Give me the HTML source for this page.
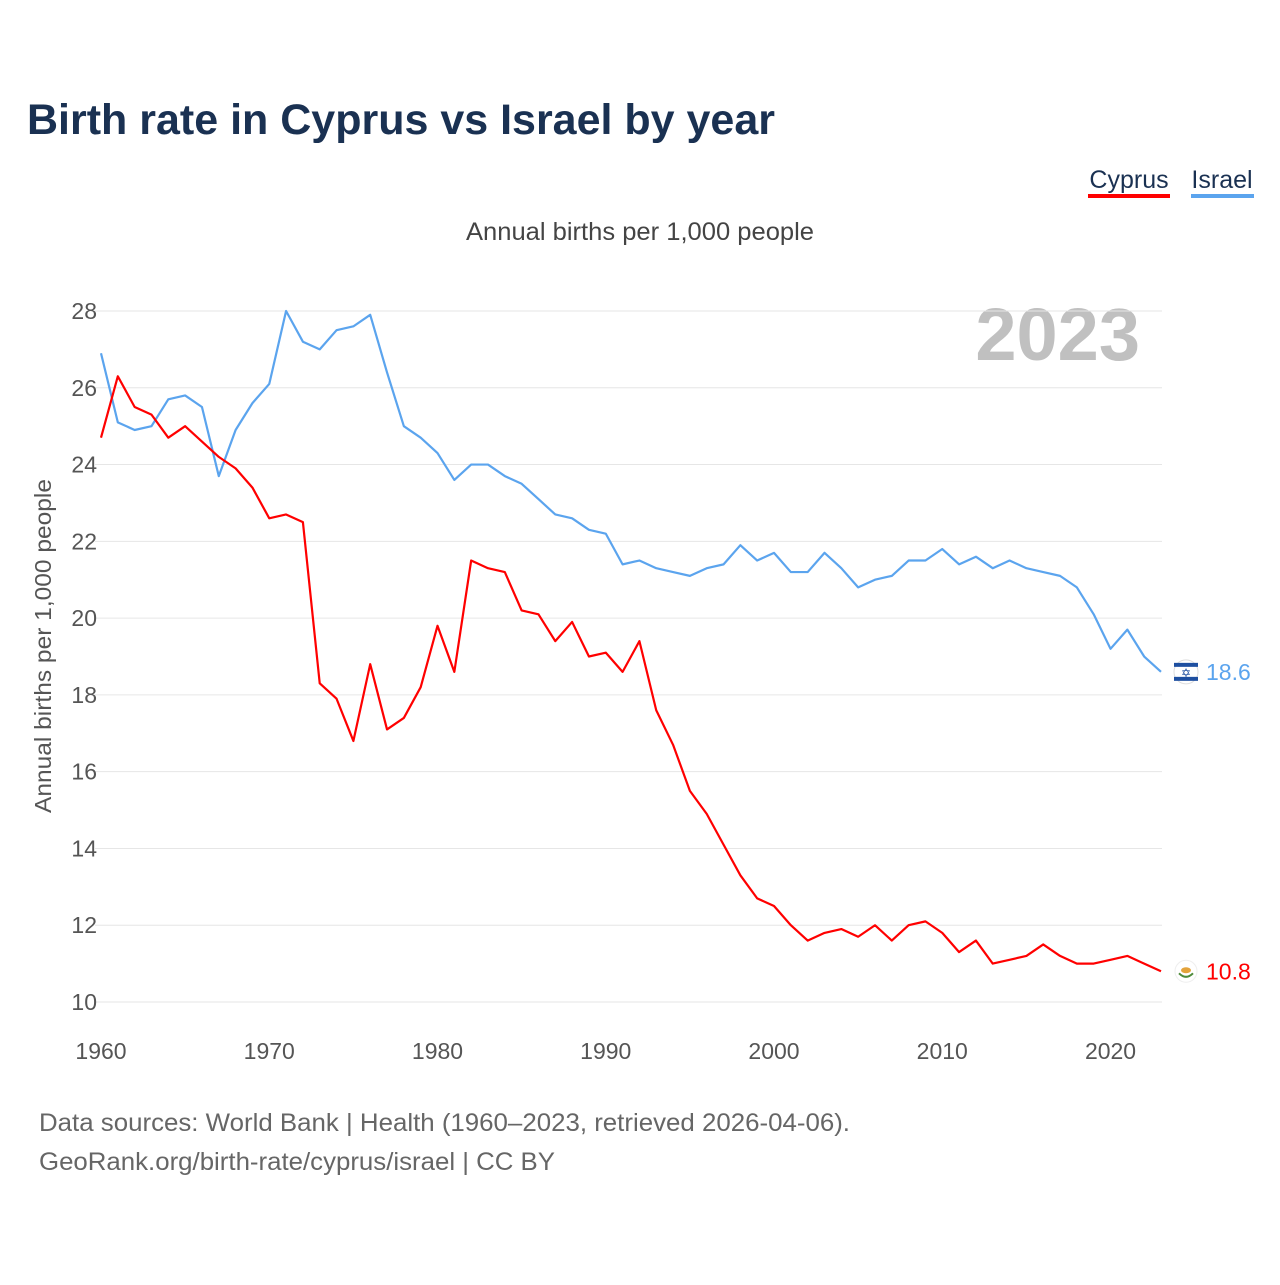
<!DOCTYPE html>
<html><head><meta charset="utf-8"><style>
body{margin:0;background:#fff;font-family:"Liberation Sans",sans-serif;}
svg text{font-family:"Liberation Sans",sans-serif;}
</style></head><body>
<svg id="chart" width="1280" height="1280" xmlns="http://www.w3.org/2000/svg">
<rect width="1280" height="1280" fill="#fff"/>
<text x="27" y="134" font-size="43" font-weight="bold" fill="#1a3152" textLength="748" lengthAdjust="spacingAndGlyphs">Birth rate in Cyprus vs Israel by year</text>
<g>
<text x="1129" y="188" font-size="25" fill="#1a3152" text-anchor="middle">Cyprus</text>
<rect x="1088" y="194" width="82" height="4" fill="#ff0000"/>
<text x="1222" y="188" font-size="25" fill="#1a3152" text-anchor="middle">Israel</text>
<rect x="1191" y="194" width="63" height="4" fill="#5ba4ee"/>
</g>
<text x="640" y="240" font-size="25" fill="#444" text-anchor="middle" textLength="348" lengthAdjust="spacingAndGlyphs">Annual births per 1,000 people</text>
<text x="1140" y="360" font-size="74" font-weight="bold" fill="#c0c0c0" text-anchor="end">2023</text>
<text transform="translate(51,646) rotate(-90)" font-size="23" fill="#555" text-anchor="middle" textLength="334" lengthAdjust="spacingAndGlyphs">Annual births per 1,000 people</text>
<g id="grid"></g><g id="ticks"></g><g id="lines"></g><g id="ends"></g>
<text x="39" y="1131" font-size="25" fill="#666" textLength="811" lengthAdjust="spacingAndGlyphs">Data sources: World Bank | Health (1960–2023, retrieved 2026-04-06).</text>
<text x="39" y="1170" font-size="25" fill="#666" textLength="516" lengthAdjust="spacingAndGlyphs">GeoRank.org/birth-rate/cyprus/israel | CC BY</text>
</svg>
<script>
const years=[];for(let y=1960;y<=2023;y++)years.push(y);
const israel=[26.9,25.1,24.9,25.0,25.7,25.8,25.5,23.7,24.9,25.6,26.1,28.0,27.2,27.0,27.5,27.6,27.9,26.4,25.0,24.7,24.3,23.6,24.0,24.0,23.7,23.5,23.1,22.7,22.6,22.3,22.2,21.4,21.5,21.3,21.2,21.1,21.3,21.4,21.9,21.5,21.7,21.2,21.2,21.7,21.3,20.8,21.0,21.1,21.5,21.5,21.8,21.4,21.6,21.3,21.5,21.3,21.2,21.1,20.8,20.1,19.2,19.7,19.0,18.6];
const cyprus=[24.7,26.3,25.5,25.3,24.7,25.0,24.6,24.2,23.9,23.4,22.6,22.7,22.5,18.3,17.9,16.8,18.8,17.1,17.4,18.2,19.8,18.6,21.5,21.3,21.2,20.2,20.1,19.4,19.9,19.0,19.1,18.6,19.4,17.6,16.7,15.5,14.9,14.1,13.3,12.7,12.5,12.0,11.6,11.8,11.9,11.7,12.0,11.6,12.0,12.1,11.8,11.3,11.6,11.0,11.1,11.2,11.5,11.2,11.0,11.0,11.1,11.2,11.0,10.8];
const yTicks=[10,12,14,16,18,20,22,24,26,28];
const xTicks=[1960,1970,1980,1990,2000,2010,2020];
const NS="http://www.w3.org/2000/svg";
const X=y=>101+(y-1960)*(1161-101)/63;
const Y=v=>1002-(v-10)*(1002-311)/18;
function mk(t,a,p){const e=document.createElementNS(NS,t);for(const k in a)e.setAttribute(k,a[k]);document.getElementById(p).appendChild(e);return e;}
yTicks.forEach(v=>{
 const l=mk('line',{x1:95,x2:1162,y1:Y(v),y2:Y(v),stroke:'#e6e6e6','stroke-width':1},'grid');
 
 
 const t=mk('text',{x:97,y:Y(v)+8,'font-size':23,fill:'#555','text-anchor':'end'},'ticks');t.textContent=v;
 
 
});
xTicks.forEach(v=>{
 const t=mk('text',{x:X(v),y:1059,'font-size':23,fill:'#555','text-anchor':'middle'},'ticks');t.textContent=v;
 
 
});
function line(d,c,n){
 const p=mk('polyline',{points:d.map((v,i)=>X(years[i])+','+Y(v)).join(' '),fill:'none',stroke:c,'stroke-width':2.2,'stroke-linejoin':'round'},'lines');
 
 
 const last=d[d.length-1];
 const ly=Y(last);
 if(n==='israel-line'){
  const ic=mk('circle',{cx:1186,cy:ly,r:12,fill:'#fff',stroke:'#ddd','stroke-width':1},'ends');
  
  
  const s1=mk('rect',{x:1174,y:ly-9,width:24,height:4,fill:'#1e4fa0'},'ends');
  
  
  const s2=mk('rect',{x:1174,y:ly+5,width:24,height:4,fill:'#1e4fa0'},'ends');
  
  
  const st=mk('text',{x:1186,y:ly+5,'font-size':12,fill:'#1e4fa0','text-anchor':'middle'},'ends');st.textContent='✡';
  
  
 } else {
  const ic=mk('circle',{cx:1186,cy:ly,r:11,fill:'#fff',stroke:'#eee','stroke-width':1},'ends');
  
  
  const m=mk('ellipse',{cx:1186,cy:ly-1,rx:5,ry:3,fill:'#e3a33b'},'ends');
  
  
  const o=mk('path',{d:`M1179 ${ly+2} Q1186 ${ly+9} 1193 ${ly+2}`,fill:'none',stroke:'#4e8b3a','stroke-width':2},'ends');
  
  
 }
 const lb=mk('text',{x:1206,y:ly+8,'font-size':23,fill:c},'ends');lb.textContent=last.toFixed(1);
 
 
}
line(israel,'#5ba4ee','israel-line');
line(cyprus,'#ff0000','cyprus-line');
</script>
</body></html>
